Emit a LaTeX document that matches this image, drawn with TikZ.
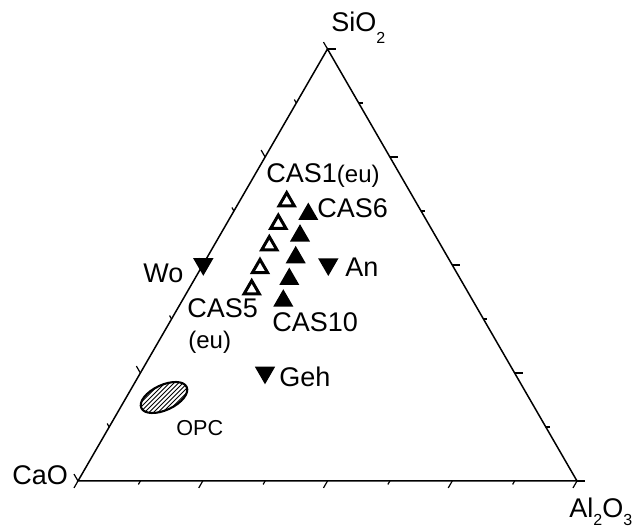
\documentclass[tikz,border=0pt]{standalone}
\usepackage{fontspec}
\setmainfont{Liberation Sans}
\usetikzlibrary{calc,shapes.geometric}
\begin{document}
\begin{tikzpicture}[x=0.5pt,y=-0.5pt,
  axis/.style={line width=0.75pt},
  tickmark/.style={line width=0.6pt},
  lbl/.style={anchor=base west, inner sep=0pt, font=\fontsize{13.5}{16}\selectfont},
  smalllbl/.style={anchor=base west, inner sep=0pt, font=\fontsize{10.8}{13}\selectfont},
  upfill/.style={regular polygon, regular polygon sides=3, fill=black, inner sep=0pt, outer sep=0pt, minimum size=11.6pt},
  upopen/.style={regular polygon, regular polygon sides=3, draw=black, fill=white, line width=1.5pt, inner sep=0pt, outer sep=0pt, minimum size=8.8pt},
  down/.style={regular polygon, regular polygon sides=3, shape border rotate=180, fill=black, inner sep=0pt, outer sep=0pt, minimum size=11.8pt},
]
\useasboundingbox (0,0) rectangle (633,528);
% vertices
\coordinate (C) at (78,481);
\coordinate (A) at (577,481);
\coordinate (S) at (327.5,49);
\draw[axis] (C) -- (A) -- (S) -- cycle;
% ticks: bottom edge (down-left)
\foreach \k in {0,2,4,6,8} \draw[tickmark] ($(C)!\k/8!(A)$) -- ++(-4,6.93);
\foreach \k in {1,3,5,7} \draw[tickmark] ($(C)!\k/8!(A)$) -- ++(-2,3.46);
% right edge (to the right)
\foreach \k in {0,2,4,6,8} \draw[tickmark] ($(A)!\k/8!(S)$) -- ++(8,0);
\foreach \k in {1,3,5,7} \draw[tickmark] ($(A)!\k/8!(S)$) -- ++(4,0);
% left edge (up-left)
\foreach \k in {0,2,4,6,8} \draw[tickmark] ($(S)!\k/8!(C)$) -- ++(-4,-6.93);
\foreach \k in {1,3,5,7} \draw[tickmark] ($(S)!\k/8!(C)$) -- ++(-2,-3.46);
% vertex labels
\node[lbl] (lsio) at (331,32) {SiO\raisebox{-6pt}{\fontsize{8}{9}\selectfont 2}};
\node[lbl] (lcao) at (12,485) {CaO};
\node[lbl] (lal) at (569,518) {Al\raisebox{-4pt}{\fontsize{8}{9}\selectfont 2}O\raisebox{-4pt}{\fontsize{8}{9}\selectfont 3}};
% OPC ellipse
\coordinate (E) at (164,397.5);
\begin{scope}
  \clip[rotate around={25:(E)}] (E) ellipse [x radius=25, y radius=12.5];
  \foreach \i in {-58.5,-54,...,58.5}
    \draw[line width=0.45pt] ($(E)+(\i,0)+(-30,30)$) -- ++(60,-60);
\end{scope}
\draw[line width=1.05pt, rotate around={25:(E)}] (E) ellipse [x radius=25, y radius=12.5];
\node[smalllbl] (lopc) at (176,436) {OPC};
% open triangles CAS1-5 (eu)
\node[upopen] (cas1) at (286.7,201.5) {};
\node[upopen] (cas2) at (278.3,224) {};
\node[upopen] (cas3) at (269.3,245.5) {};
\node[upopen] (cas4) at (260,268.3) {};
\node[upopen] (cas5) at (251.7,289.5) {};
% filled triangles CAS6-10
\node[upfill] (cas6) at (308.3,214.2) {};
\node[upfill] (cas7) at (300,235.8) {};
\node[upfill] (cas8) at (295.7,257.5) {};
\node[upfill] (cas9) at (289.3,279.2) {};
\node[upfill] (cas10) at (283.3,300.8) {};
% down triangles
\node[down] (wo) at (203.3,264) {};
\node[down] (an) at (328.3,264.2) {};
\node[down] (geh) at (265,372.5) {};
% labels
\node[lbl] (lwo) at (143,283) {Wo};
\node[lbl] (lan) at (345,277) {An};
\node[lbl] (lgeh) at (279,387) {Geh};
\node[lbl] (lcas1) at (266,183) {CAS1\fontsize{12}{14}\selectfont(eu)};
\node[lbl] (lcas6) at (317,218) {CAS6};
\node[lbl] (lcas5) at (187,318) {CAS5};
\node[lbl,font=\fontsize{12}{14}\selectfont] (leu) at (188,349) {(eu)};
\node[lbl] (lcas10) at (272,332) {CAS10};
\end{tikzpicture}
\end{document}
